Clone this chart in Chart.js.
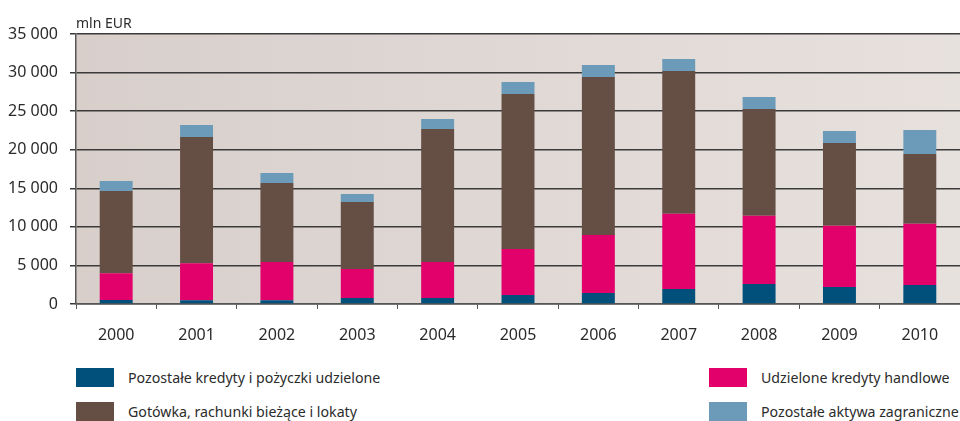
<!DOCTYPE html>
<html>
<head>
<meta charset="utf-8">
<script src="https://cdn.jsdelivr.net/npm/chart.js@4"></script>
<style>
  body { margin: 0; background: #fff; font-family: "Noto Sans", sans-serif; color: #2b2b2b; }
  #wrap { position: relative; width: 960px; height: 421px; }
  #chartBox { position: absolute; left: 0; top: 0; width: 960px; height: 350px; }
  .unit { position: absolute; left: 76px; top: 13px; font-size: 14px; }
  .leg { position: absolute; font-size: 14.2px; line-height: 19px; white-space: nowrap; }
  .leg span.sw { position: absolute; width: 38px; height: 19px; }
  .leg span.tx { position: absolute; top: 0; }
</style>
</head>
<body>
<div id="wrap">
  <div id="chartBox"><canvas id="chart"></canvas></div>
  <div class="unit">mln EUR</div>
  <div id="legend"></div>
</div>
<script>
const years = ['2000', '2001', '2002', '2003', '2004', '2005', '2006', '2007', '2008', '2009', '2010'];
const pozostaleKredyty = [520, 500, 500, 780, 780, 1170, 1430, 1940, 2590, 2200, 2460];
const kredytyHandlowe = [3460, 4780, 4940, 3760, 4660, 5960, 7510, 9770, 8860, 7950, 7950];
const gotowka = [10670, 16370, 10250, 8680, 17250, 20090, 20490, 18490, 13830, 10720, 9030];
const pozostaleAktywa = [1300, 1550, 1290, 1040, 1290, 1560, 1550, 1560, 1550, 1560, 3120];
const yTicks = [0, 5000, 10000, 15000, 20000, 25000, 30000, 35000];

const colors = {
    kredyty: '#00507b',
    handlowe: '#e2006a',
    gotowka: '#654e44',
    aktywa: '#6c9bba'
};

// gradient tła obszaru wykresu
const plotBackground = {
    id: 'plotBackground',
    beforeDraw(chart) {
        const { ctx, chartArea: a } = chart;
        const g = ctx.createLinearGradient(a.left, 0, a.right, 0);
        g.addColorStop(0, '#d8cfcb');
        g.addColorStop(1, '#e7e1de');
        ctx.save();
        ctx.fillStyle = g;
        ctx.fillRect(a.left, a.top, a.right - a.left, a.bottom - a.top);
        ctx.restore();
    }
};

const fmt = v => String(v).replace(/\B(?=(\d{3})+(?!\d))/g, ' ');

new Chart(document.getElementById('chart'), {
    type: 'bar',
    data: {
        labels: years,
        datasets: [
            { label: 'Pozostałe kredyty i pożyczki udzielone', data: pozostaleKredyty, backgroundColor: colors.kredyty },
            { label: 'Udzielone kredyty handlowe', data: kredytyHandlowe, backgroundColor: colors.handlowe },
            { label: 'Gotówka, rachunki bieżące i lokaty', data: gotowka, backgroundColor: colors.gotowka },
            { label: 'Pozostałe aktywa zagraniczne', data: pozostaleAktywa, backgroundColor: colors.aktywa }
        ]
    },
    options: {
        responsive: true,
        maintainAspectRatio: false,
        animation: false,
        layout: { padding: { top: 34, right: 0, left: 0, bottom: 0 } },
        datasets: { bar: { barPercentage: 0.41, categoryPercentage: 1 } },
        plugins: { legend: { display: false }, tooltip: { enabled: false } },
        scales: {
            x: {
                stacked: true,
                afterFit: s => { s.height = 46; },
                grid: { drawOnChartArea: false, tickLength: 5, color: '#555', offset: true },
                border: { color: '#555', width: 1.5 },
                ticks: { padding: 17, color: '#2b2b2b', font: { family: 'Noto Sans', size: 16 } }
            },
            y: {
                stacked: true,
                min: 0,
                max: 35000,
                afterFit: s => { s.width = 76; },
                afterBuildTicks: s => { s.ticks = yTicks.map(v => ({ value: v })); },
                grid: { color: '#3a3a3a', lineWidth: 1.5, tickLength: 6 },
                border: { color: '#555', width: 1.5 },
                ticks: {
                    padding: 12,
                    color: '#2b2b2b',
                    font: { family: 'Noto Sans', size: 16 },
                    callback: v => fmt(v)
                }
            }
        }
    },
    plugins: [plotBackground]
});

// legenda w dwóch kolumnach
const legendItems = [
    { text: 'Pozostałe kredyty i pożyczki udzielone', color: colors.kredyty, x: 76, y: 368 },
    { text: 'Gotówka, rachunki bieżące i lokaty', color: colors.gotowka, x: 76, y: 402 },
    { text: 'Udzielone kredyty handlowe', color: colors.handlowe, x: 709, y: 368 },
    { text: 'Pozostałe aktywa zagraniczne', color: colors.aktywa, x: 709, y: 402 }
];
const legend = document.getElementById('legend');
legendItems.forEach(item => {
    const el = document.createElement('div');
    el.className = 'leg';
    el.style.left = item.x + 'px';
    el.style.top = item.y + 'px';
    el.innerHTML = '<span class="sw" style="left:0;top:0;background:' + item.color + '"></span>' +
        '<span class="tx" style="left:52px">' + item.text + '</span>';
    legend.appendChild(el);
});
</script>
</body>
</html>
